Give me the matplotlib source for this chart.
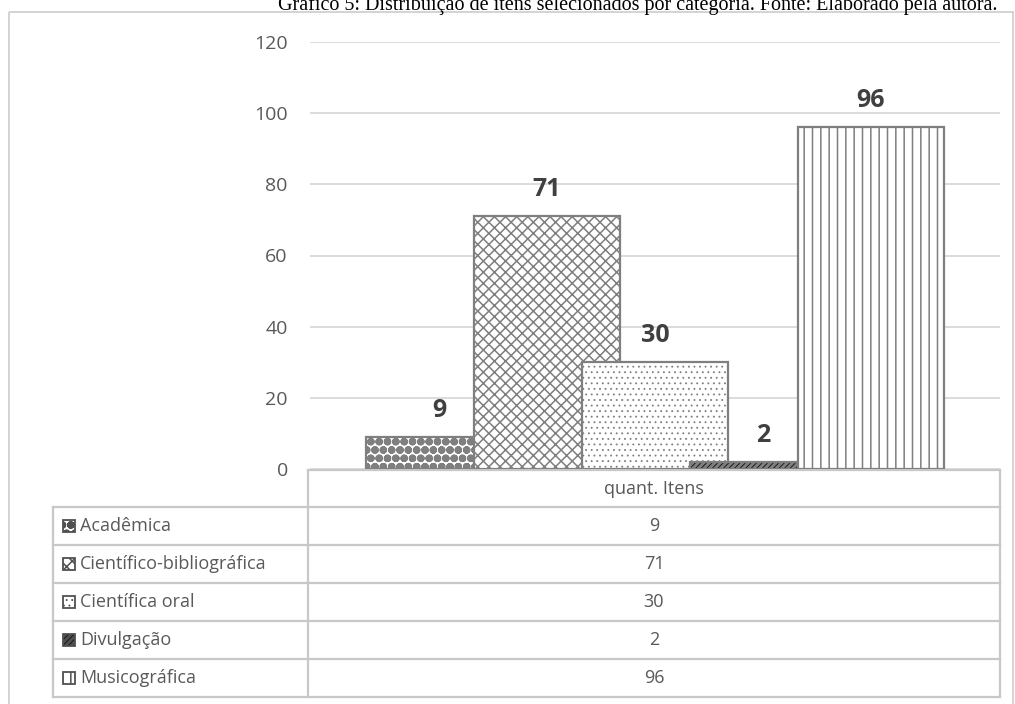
import matplotlib

matplotlib.use("Agg")

import matplotlib.pyplot as plt
from matplotlib.patches import Rectangle

# data
categories = ["Acadêmica", "Científico-bibliográfica", "Científica oral", "Divulgação", "Musicográfica"]
values = [9, 71, 30, 2, 96]
group_label = "quant. Itens"
yticks = [0, 20, 40, 60, 80, 100, 120]
title = "Gráfico 5: Distribuição de itens selecionados por categoria. Fonte: Elaborado pela autora."

# styling per series
hatches = ["oo", "xxx", "...", "//////", "||"]
hatch_lw = [3.0, 1.1, 0.6, 2.2, 1.1]
faces = ["white", "white", "white", "#101010", "white"]

W, H = 1015, 704
GRAY_TXT = "#595959"
GRID = "#d9d9d9"
font = "Open Sans"

fig = plt.figure(figsize=(W / 100, H / 100), dpi=100)


def fx(px):
    return px / W


def fy(py):
    return 1 - py / H


# overlay in pixel coordinates for frame, title and table
over = fig.add_axes([0, 0, 1, 1], zorder=0)
over.set_xlim(0, W)
over.set_ylim(H, 0)
over.axis("off")
over.add_patch(Rectangle((9, 12), 1004, 720, fill=False, edgecolor="#d0d0d0", lw=1.3))
over.text(638, 10, title, ha="center", va="baseline", fontsize=14.5,
          family="Liberation Serif", color="black")

# bar chart
ax = fig.add_axes([fx(310), fy(469), fx(1000) - fx(310), fy(42) - fy(469)], zorder=2)
ax.set_ylim(0, 120)
ax.set_xlim(-0.5, 0.5)
ax.set_yticks(yticks)
ax.yaxis.grid(True, color=GRID, lw=1.3)
ax.set_axisbelow(True)
ax.set_xticks([])
for s in ax.spines.values():
    s.set_visible(False)
ax.tick_params(axis="y", length=0, pad=16, labelsize=14, labelcolor=GRAY_TXT)
for lab in ax.get_yticklabels():
    lab.set_family(font)
ax.patch.set_alpha(0)

step = 0.1565
width = 0.212
n = len(values)
for i, v in enumerate(values):
    x = (i - (n - 1) / 2) * step
    with plt.rc_context({"hatch.linewidth": hatch_lw[i], "hatch.color": "black"}):
        ax.bar(x, v, width=width, facecolor=faces[i], edgecolor="#7f7f7f",
               hatch=hatches[i], lw=1.6, zorder=3 + i)
    ax.text(x, v + 4.0, str(v), ha="center", va="bottom", fontsize=18,
            fontweight="bold", color="#404040", family=font, zorder=10)

# data table
table_left, col_split, table_right = 53, 308, 1000
header_top = 470
row_h = 38
line_kw = dict(color="#c8c8c8", lw=1.6, zorder=1)
txt_kw = dict(fontsize=13, color=GRAY_TXT, family=font)

rows_top = header_top + 37
# header row
over.plot([col_split, table_right], [header_top, header_top], **line_kw)
over.plot([col_split, col_split], [header_top, rows_top], **line_kw)
over.plot([table_right, table_right], [header_top, rows_top], **line_kw)
over.text((col_split + table_right) / 2, (header_top + rows_top) / 2, group_label,
          ha="center", va="center", **txt_kw)

for i, (cat, v) in enumerate(zip(categories, values)):
    top = rows_top + i * row_h
    bot = top + row_h
    over.plot([table_left, table_right], [top, top], **line_kw)
    over.plot([table_left, table_left], [top, bot], **line_kw)
    over.plot([col_split, col_split], [top, bot], **line_kw)
    over.plot([table_right, table_right], [top, bot], **line_kw)
    mid = (top + bot) / 2
    with plt.rc_context({"hatch.linewidth": hatch_lw[i], "hatch.color": "black"}):
        over.add_patch(Rectangle((63, mid - 6), 12, 12, facecolor=faces[i],
                                 edgecolor="#505050", hatch=hatches[i], lw=1.3, zorder=2))
    over.text(80, mid, cat, ha="left", va="center", **txt_kw)
    over.text((col_split + table_right) / 2, mid, str(v), ha="center", va="center", **txt_kw)
last_bot = rows_top + len(categories) * row_h
over.plot([table_left, table_right], [last_bot, last_bot], **line_kw)

fig.savefig("out.png", dpi=100)
